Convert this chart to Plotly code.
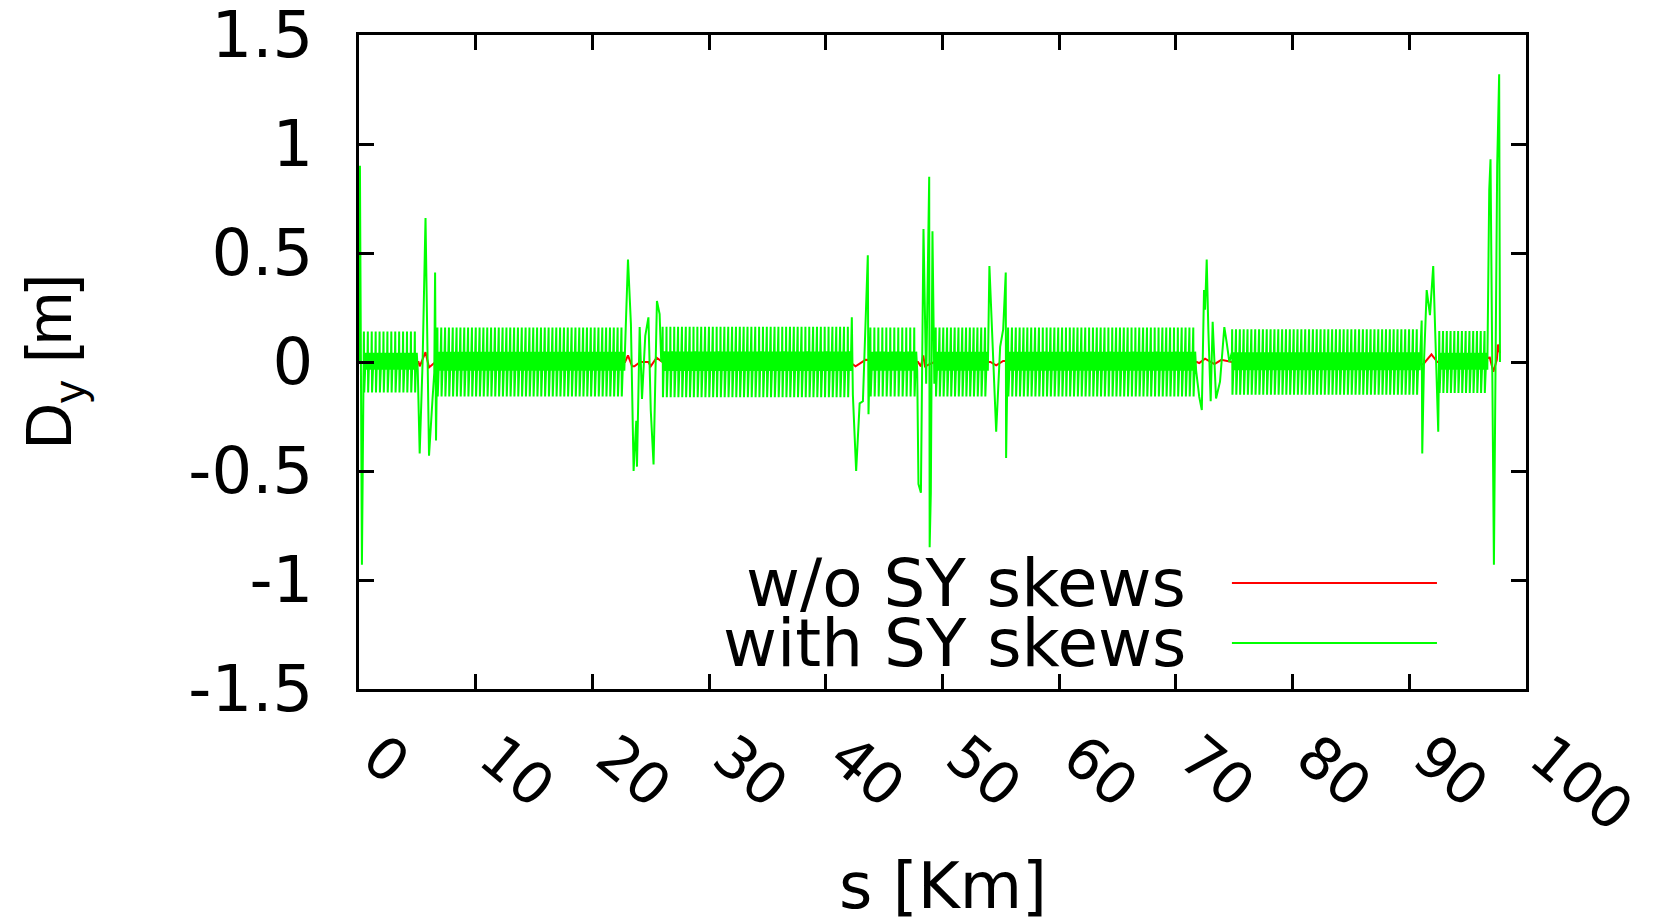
import plotly.graph_objects as go

# ---------------- data ----------------
# x axis ticks
x_tick_vals = [0, 10, 20, 30, 40, 50, 60, 70, 80, 90, 100]
x_tick_text = ["0", "10", "20", "30", "40", "50", "60", "70", "80", "90", "100"]
y_tick_vals = [1.5, 1.0, 0.5, 0.0, -0.5, -1.0, -1.5]
y_tick_text = ["1.5", "1", "0.5", "0", "-0.5", "-1", "-1.5"]

# arcs of the ring with the regular cell-by-cell oscillation (with SY skews)
arc_start = [0.40, 6.70, 26.00, 43.80, 49.40, 55.60, 74.80, 92.55]   # km
arc_end = [5.10, 22.80, 42.20, 47.90, 53.95, 71.80, 90.95, 96.75]     # km
arc_amp = [0.140, 0.158, 0.162, 0.158, 0.158, 0.158, 0.150, 0.142]    # m
cell_len = 0.33                                                        # km
# shape of one cell: position within the cell and value relative to arc amplitude
cell_frac = [0.00, 0.06, 0.14, 0.30, 0.55, 0.80]
cell_rel = [0.30, 1.00, -1.00, -0.30, 0.30, -0.25]

# straight sections / insertions, with SY skews (green)
g_s = [0.00, 0.08, 0.25,
       5.20, 5.45, 5.70, 6.00, 6.30, 6.45, 6.52, 6.60,
       23.05, 23.30, 23.53, 23.76, 23.82, 24.05, 24.25, 24.53, 24.80, 25.00,
       25.24, 25.53, 25.76, 25.90,
       42.23, 42.32, 42.60, 42.90, 43.18, 43.60, 43.66,
       47.94, 48.15, 48.37, 48.60, 48.86, 48.90, 49.00, 49.14, 49.30,
       54.02, 54.60, 54.94, 55.20, 55.42, 55.45,
       72.00, 72.22, 72.41, 72.50, 72.64, 72.78, 72.98, 73.15, 73.44, 73.78,
       74.15, 74.35, 74.58,
       91.06, 91.11, 91.26, 91.49, 91.77, 92.05, 92.48,
       96.85, 96.96, 97.25, 97.53, 97.70, 97.77]
g_dy = [0.00, 0.90, -0.93,
        -0.42, 0.00, 0.66, -0.43, -0.17, -0.05, 0.41, -0.36,
        0.47, 0.175, -0.50, -0.27, -0.48, 0.16, -0.17, 0.12, 0.205, -0.22,
        -0.47, 0.28, 0.22, 0.00,
        0.205, -0.15, -0.50, -0.19, -0.18, 0.49, -0.24,
        -0.56, -0.60, 0.61, -0.10, 0.85, -0.85, -0.60, 0.60, -0.10,
        0.44, -0.32, 0.07, 0.15, 0.41, -0.44,
        -0.16, -0.22, 0.33, 0.24, 0.47, 0.15, -0.18, 0.185, -0.167, -0.09,
        0.16, 0.09, 0.00,
        0.19, -0.42, 0.00, 0.33, 0.215, 0.44, -0.32,
        0.79, 0.93, -0.93, 0.90, 1.32, 0.00]

# without SY skews (red)
r_s = [0.00, 5.10, 5.20, 5.70, 6.00, 6.30, 6.55, 22.80, 23.05, 23.40, 23.60,
       24.10, 24.80, 25.00, 25.50, 26.00, 42.30, 42.55, 43.10, 43.40, 47.90,
       48.15, 48.35, 48.50, 49.30, 54.10, 54.60, 55.20, 71.80, 72.00, 72.50,
       73.30, 73.90, 74.80, 91.20, 91.90, 92.40, 96.90, 97.20, 97.50, 97.60,
       97.77]
r_dy = [0.00, 0.00, -0.02, 0.045, -0.025, -0.01, 0.00, 0.00, 0.03, -0.02, -0.02,
        0.00, 0.00, -0.02, 0.02, 0.00, -0.01, -0.02, 0.00, 0.01, 0.00,
        -0.02, 0.03, -0.02, 0.00, 0.00, -0.015, 0.005, 0.00, -0.005, 0.015,
        -0.01, 0.01, 0.00, -0.01, 0.035, 0.00, 0.02, -0.045, 0.01, 0.08,
        0.04]

legend_names = ["w/o SY skews", "with SY skews"]
colors = ["#ff0000", "#00ff00"]

# ---------------- build the green series ----------------
pts = []
for s0, s1, a in zip(arc_start, arc_end, arc_amp):
    n = max(1, int(round((s1 - s0) / cell_len)))
    step = (s1 - s0) / n
    for k in range(n):
        base = s0 + k * step
        for f, r in zip(cell_frac, cell_rel):
            pts.append((base + f * step, r * a))
pts += list(zip(g_s, g_dy))
pts.sort(key=lambda p: p[0])
green_s = [p[0] for p in pts]
green_dy = [p[1] for p in pts]

fig = go.Figure()
fig.add_trace(go.Scatter(x=r_s, y=r_dy, mode="lines", name=legend_names[0],
                         line=dict(color=colors[0], width=2), showlegend=False))
fig.add_trace(go.Scatter(x=green_s, y=green_dy, mode="lines", name=legend_names[1],
                         line=dict(color=colors[1], width=2), showlegend=False))

axis_common = dict(showline=True, linecolor="black", linewidth=3, mirror="ticks",
                   ticks="inside", ticklen=15, tickwidth=3, tickcolor="black",
                   showgrid=False, zeroline=False, automargin=False,
                   ticklabeloverflow="allow")

fig.update_xaxes(range=[0, 100], tickvals=x_tick_vals, ticktext=x_tick_text,
                 tickangle=40, ticklabelstandoff=8, ticklabelshift=19,
                 tickfont=dict(family="DejaVu Sans", size=58, color="black"),
                 **axis_common)
fig.update_yaxes(range=[-1.5, 1.5], tickvals=y_tick_vals, ticktext=y_tick_text,
                 ticklabelstandoff=30,
                 tickfont=dict(family="DejaVu Sans", size=64, color="black"),
                 **axis_common)

annotations = [
    dict(text="s [Km]", xref="paper", yref="paper", x=0.5, y=-0.301,
         xanchor="center", yanchor="middle", showarrow=False,
         font=dict(family="DejaVu Sans", size=64, color="black")),
    dict(text="D<sub>y</sub> [m]", xref="paper", yref="paper", x=-0.262, y=0.5,
         xanchor="center", yanchor="middle", textangle=-90, showarrow=False,
         font=dict(family="Liberation Sans", size=64, color="black")),
]
shapes = []
leg_y = [0.162, 0.0703]
for name, col, yy in zip(legend_names, colors, leg_y):
    annotations.append(dict(text=name, xref="paper", yref="paper", x=0.7105, y=yy,
                            xanchor="right", yanchor="middle", showarrow=False,
                            font=dict(family="DejaVu Sans", size=66, color="black")))
    shapes.append(dict(type="line", xref="paper", yref="paper", x0=0.748, x1=0.9237,
                       y0=yy, y1=yy, line=dict(color=col, width=2)))

fig.update_layout(width=1654, height=917,
                  margin=dict(l=359, r=128, t=35, b=228, pad=0),
                  paper_bgcolor="white", plot_bgcolor="white",
                  annotations=annotations, shapes=shapes, showlegend=False)

fig.write_html("out.html")
